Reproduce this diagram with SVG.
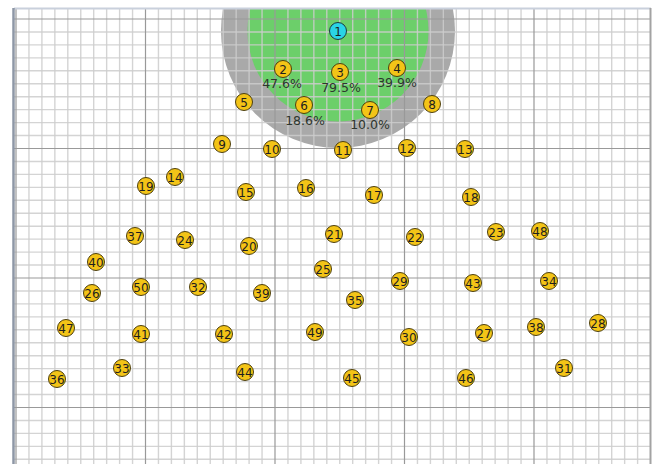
<svg xmlns="http://www.w3.org/2000/svg" width="664" height="464" viewBox="0 0 664 464">
<style>
.minor{fill:none;stroke:#cdcdcd;stroke-width:1.4;opacity:0.85}
.major{fill:none;stroke:#999999;stroke-width:1.2}
.nd{fill:#f3c417;stroke:#4d3f0d;stroke-width:1}
.nd1{fill:#2ad4e6;stroke:#1d3a40;stroke-width:1}
.t{font-family:"DejaVu Sans",sans-serif;font-size:12px;fill:#1e1e1e;text-anchor:middle;dominant-baseline:central}
.p{font-family:"DejaVu Sans",sans-serif;font-size:12.5px;fill:#2e362e;text-anchor:middle;dominant-baseline:central}
</style>
<defs>
<clipPath id="area"><rect x="14" y="9" width="636" height="455"/></clipPath>
</defs>
<rect width="664" height="464" fill="#ffffff"/>
<g id="zones" clip-path="url(#area)">
<circle cx="338" cy="31" r="117" fill="#a9a9a9"/>
<circle cx="338" cy="31" r="90.5" fill="#6ccf6a"/>
</g>
<g id="grid" clip-path="url(#area)">
<path class="minor" d="M28.95 9V464M41.9 9V464M54.85 9V464M67.8 9V464M80.75 9V464M93.7 9V464M106.65 9V464M119.6 9V464M132.55 9V464M158.45 9V464M171.4 9V464M184.35 9V464M197.3 9V464M210.25 9V464M223.2 9V464M236.15 9V464M249.1 9V464M262.05 9V464M287.95 9V464M300.9 9V464M313.85 9V464M326.8 9V464M339.75 9V464M352.7 9V464M365.65 9V464M378.6 9V464M391.55 9V464M417.45 9V464M430.4 9V464M443.35 9V464M456.3 9V464M469.25 9V464M482.2 9V464M495.15 9V464M508.1 9V464M521.05 9V464M546.95 9V464M559.9 9V464M572.85 9V464M585.8 9V464M598.75 9V464M611.7 9V464M624.65 9V464M637.6 9V464"/>
<path class="minor" d="M14 31.95H650M14 44.9H650M14 57.85H650M14 70.8H650M14 83.75H650M14 96.7H650M14 109.65H650M14 122.6H650M14 135.55H650M14 161.45H650M14 174.4H650M14 187.35H650M14 200.3H650M14 213.25H650M14 226.2H650M14 239.15H650M14 252.1H650M14 265.05H650M14 290.95H650M14 303.9H650M14 316.85H650M14 329.8H650M14 342.75H650M14 355.7H650M14 368.65H650M14 381.6H650M14 394.55H650M14 420.45H650M14 433.4H650M14 446.35H650M14 459.3H650"/>
<path class="major" d="M16 9V464M145.5 9V464M275 9V464M404.5 9V464M534 9V464M14 19H650M14 148.5H650M14 278H650M14 407.5H650"/>
</g>
<g id="frame">
<line x1="14" y1="8.5" x2="651" y2="8.5" stroke="#c9d0dc" stroke-width="2"/>
<line x1="13.5" y1="8" x2="13.5" y2="464" stroke="#8e97a6" stroke-width="2.5"/>
<line x1="650.5" y1="8" x2="650.5" y2="464" stroke="#a3a3a3" stroke-width="2"/>
</g>
<g id="connectors"></g>
<g id="n1"><circle class="nd1" cx="338" cy="31" r="8.5"/><text class="t" x="338" y="31.5">1</text></g>
<g id="n2"><circle class="nd" cx="283" cy="69" r="8.5"/><text class="t" x="283" y="69.5">2</text><text class="p" x="282" y="83">47.6%</text></g>
<g id="n3"><circle class="nd" cx="340" cy="72" r="8.5"/><text class="t" x="340" y="72.5">3</text><text class="p" x="341" y="87">79.5%</text></g>
<g id="n4"><circle class="nd" cx="397" cy="68" r="8.5"/><text class="t" x="397" y="68.5">4</text><text class="p" x="397" y="82">39.9%</text></g>
<g id="n5"><circle class="nd" cx="244" cy="102" r="8.5"/><text class="t" x="244" y="102.5">5</text></g>
<g id="n6"><circle class="nd" cx="304" cy="105" r="8.5"/><text class="t" x="304" y="105.5">6</text><text class="p" x="305" y="120">18.6%</text></g>
<g id="n7"><circle class="nd" cx="370" cy="110" r="8.5"/><text class="t" x="370" y="110.5">7</text><text class="p" x="370" y="124">10.0%</text></g>
<g id="n8"><circle class="nd" cx="432" cy="104" r="8.5"/><text class="t" x="432" y="104.5">8</text></g>
<g id="n9"><circle class="nd" cx="222" cy="144" r="8.5"/><text class="t" x="222" y="144.5">9</text></g>
<g id="n10"><circle class="nd" cx="272" cy="149" r="8.5"/><text class="t" x="272" y="149.5">10</text></g>
<g id="n11"><circle class="nd" cx="343" cy="150" r="8.5"/><text class="t" x="343" y="150.5">11</text></g>
<g id="n12"><circle class="nd" cx="407" cy="148" r="8.5"/><text class="t" x="407" y="148.5">12</text></g>
<g id="n13"><circle class="nd" cx="465" cy="149" r="8.5"/><text class="t" x="465" y="149.5">13</text></g>
<g id="n14"><circle class="nd" cx="175" cy="177" r="8.5"/><text class="t" x="175" y="177.5">14</text></g>
<g id="n15"><circle class="nd" cx="246" cy="192" r="8.5"/><text class="t" x="246" y="192.5">15</text></g>
<g id="n16"><circle class="nd" cx="306" cy="188" r="8.5"/><text class="t" x="306" y="188.5">16</text></g>
<g id="n17"><circle class="nd" cx="374" cy="195" r="8.5"/><text class="t" x="374" y="195.5">17</text></g>
<g id="n18"><circle class="nd" cx="471" cy="197" r="8.5"/><text class="t" x="471" y="197.5">18</text></g>
<g id="n19"><circle class="nd" cx="146" cy="186" r="8.5"/><text class="t" x="146" y="186.5">19</text></g>
<g id="n20"><circle class="nd" cx="249" cy="246" r="8.5"/><text class="t" x="249" y="246.5">20</text></g>
<g id="n21"><circle class="nd" cx="334" cy="234" r="8.5"/><text class="t" x="334" y="234.5">21</text></g>
<g id="n22"><circle class="nd" cx="415" cy="237" r="8.5"/><text class="t" x="415" y="237.5">22</text></g>
<g id="n23"><circle class="nd" cx="496" cy="232" r="8.5"/><text class="t" x="496" y="232.5">23</text></g>
<g id="n24"><circle class="nd" cx="185" cy="240" r="8.5"/><text class="t" x="185" y="240.5">24</text></g>
<g id="n25"><circle class="nd" cx="323" cy="269" r="8.5"/><text class="t" x="323" y="269.5">25</text></g>
<g id="n26"><circle class="nd" cx="92" cy="293" r="8.5"/><text class="t" x="92" y="293.5">26</text></g>
<g id="n27"><circle class="nd" cx="484" cy="333" r="8.5"/><text class="t" x="484" y="333.5">27</text></g>
<g id="n28"><circle class="nd" cx="598" cy="323" r="8.5"/><text class="t" x="598" y="323.5">28</text></g>
<g id="n29"><circle class="nd" cx="400" cy="281" r="8.5"/><text class="t" x="400" y="281.5">29</text></g>
<g id="n30"><circle class="nd" cx="409" cy="337" r="8.5"/><text class="t" x="409" y="337.5">30</text></g>
<g id="n31"><circle class="nd" cx="564" cy="368" r="8.5"/><text class="t" x="564" y="368.5">31</text></g>
<g id="n32"><circle class="nd" cx="198" cy="287" r="8.5"/><text class="t" x="198" y="287.5">32</text></g>
<g id="n33"><circle class="nd" cx="122" cy="368" r="8.5"/><text class="t" x="122" y="368.5">33</text></g>
<g id="n34"><circle class="nd" cx="549" cy="281" r="8.5"/><text class="t" x="549" y="281.5">34</text></g>
<g id="n35"><circle class="nd" cx="355" cy="300" r="8.5"/><text class="t" x="355" y="300.5">35</text></g>
<g id="n36"><circle class="nd" cx="57" cy="379" r="8.5"/><text class="t" x="57" y="379.5">36</text></g>
<g id="n37"><circle class="nd" cx="135" cy="236" r="8.5"/><text class="t" x="135" y="236.5">37</text></g>
<g id="n38"><circle class="nd" cx="536" cy="327" r="8.5"/><text class="t" x="536" y="327.5">38</text></g>
<g id="n39"><circle class="nd" cx="262" cy="293" r="8.5"/><text class="t" x="262" y="293.5">39</text></g>
<g id="n40"><circle class="nd" cx="96" cy="262" r="8.5"/><text class="t" x="96" y="262.5">40</text></g>
<g id="n41"><circle class="nd" cx="141" cy="334" r="8.5"/><text class="t" x="141" y="334.5">41</text></g>
<g id="n42"><circle class="nd" cx="224" cy="334" r="8.5"/><text class="t" x="224" y="334.5">42</text></g>
<g id="n43"><circle class="nd" cx="473" cy="283" r="8.5"/><text class="t" x="473" y="283.5">43</text></g>
<g id="n44"><circle class="nd" cx="245" cy="372" r="8.5"/><text class="t" x="245" y="372.5">44</text></g>
<g id="n45"><circle class="nd" cx="352" cy="378" r="8.5"/><text class="t" x="352" y="378.5">45</text></g>
<g id="n46"><circle class="nd" cx="466" cy="378" r="8.5"/><text class="t" x="466" y="378.5">46</text></g>
<g id="n47"><circle class="nd" cx="66" cy="328" r="8.5"/><text class="t" x="66" y="328.5">47</text></g>
<g id="n48"><circle class="nd" cx="540" cy="231" r="8.5"/><text class="t" x="540" y="231.5">48</text></g>
<g id="n49"><circle class="nd" cx="315" cy="332" r="8.5"/><text class="t" x="315" y="332.5">49</text></g>
<g id="n50"><circle class="nd" cx="141" cy="287" r="8.5"/><text class="t" x="141" y="287.5">50</text></g>
</svg>
